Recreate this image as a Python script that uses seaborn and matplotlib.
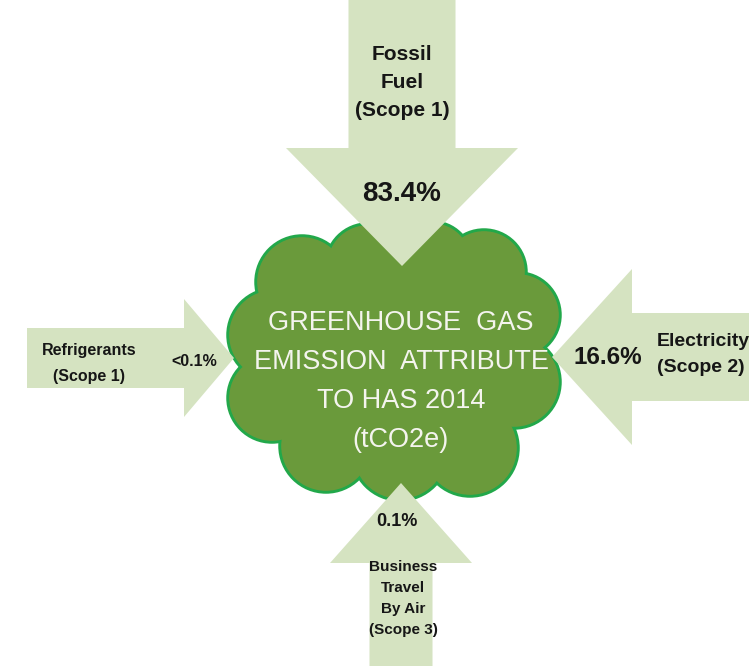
import matplotlib
matplotlib.use("Agg")
import matplotlib.pyplot as plt
from matplotlib.patches import Polygon, Circle
import seaborn as sns

# ---- data ----
sources = ["Fossil\nFuel\n(Scope 1)", "Electricity\n(Scope 2)",
           "Refrigerants\n(Scope 1)", "Business\nTravel\nBy Air\n(Scope 3)"]
shares = ["83.4%", "16.6%", "<0.1%", "0.1%"]
centre_title = ["GREENHOUSE  GAS", "EMISSION  ATTRIBUTE", "TO HAS 2014", "(tCO2e)"]

sns.set_theme(style="white")
plt.rcParams['font.family'] = ['Liberation Sans', 'DejaVu Sans']

ARROW = "#d5e3c1"
CLOUD = "#6a9a3b"
EDGE = "#22a84a"
INK = "#161616"

fig = plt.figure(figsize=(7.49, 6.66), dpi=100)
ax = fig.add_axes([0, 0, 1, 1])
ax.set_xlim(0, 749)
ax.set_ylim(666, 0)
ax.axis("off")


def arrow(direction, tip, shaft_w, head_w, head_len, tail):
    tx, ty = tip
    hs, hh = shaft_w / 2, head_w / 2
    if direction in ("down", "up"):
        b = ty - head_len if direction == "down" else ty + head_len
        pts = [(tx - hs, tail), (tx + hs, tail), (tx + hs, b), (tx + hh, b), (tx, ty),
               (tx - hh, b), (tx - hs, b)]
    else:
        b = tx - head_len if direction == "right" else tx + head_len
        pts = [(tail, ty - hs), (tail, ty + hs), (b, ty + hs), (b, ty + hh), (tx, ty),
               (b, ty - hh), (b, ty - hs)]
    ax.add_patch(Polygon(pts, closed=True, facecolor=ARROW, edgecolor="none", zorder=4))


# cloud
circles = [
    (302, 282, 46), (368, 266, 42), (432, 262, 40), (484, 272, 42),
    (518, 315, 42), (514, 382, 46), (470, 448, 48), (400, 452, 48),
    (326, 446, 46), (272, 398, 44), (274, 335, 46), (400, 360, 110),
]
for cx, cy, r in circles:
    ax.add_patch(Circle((cx, cy), r, facecolor=CLOUD, edgecolor=EDGE, lw=2.5, zorder=2))
for cx, cy, r in circles:
    ax.add_patch(Circle((cx, cy), r - 1.2, facecolor=CLOUD, edgecolor="none", zorder=3))

# arrows (tips overlap the cloud)
arrow("down", (402, 266), 107, 232, 118, -5)
arrow("right", (234, 358), 60, 118, 50, 27)
arrow("left", (552, 357), 88, 176, 80, 760)
arrow("up", (401, 483), 63, 142, 80, 670)

# cloud title
for i, line in enumerate(centre_title):
    ax.text(401, 323 + 39 * i, line, ha="center", va="center", color="#f4f4ee",
            fontsize=19.5, zorder=6)

# labels
for i, line in enumerate(sources[0].split("\n")):
    ax.text(402, 54 + 28 * i, line, ha="center", va="center", color=INK, fontsize=15,
            fontweight="bold", zorder=6)
ax.text(402, 194, shares[0], ha="center", va="center", color=INK, fontsize=20,
        fontweight="bold", zorder=6)

for i, line in enumerate(sources[1].split("\n")):
    ax.text(657, 342 + 26 * i, line, ha="left", va="center", color=INK, fontsize=14,
            fontweight="bold", zorder=6)
ax.text(608, 357, shares[1], ha="center", va="center", color=INK, fontsize=17.5,
        fontweight="bold", zorder=6)

for i, line in enumerate(sources[2].split("\n")):
    ax.text(89, 351 + 25 * i, line, ha="center", va="center", color=INK, fontsize=11.5,
            fontweight="bold", zorder=6)
ax.text(194, 362, shares[2], ha="center", va="center", color=INK, fontsize=11.5,
        fontweight="bold", zorder=6)

for i, line in enumerate(sources[3].split("\n")):
    ax.text(403, 567 + 21 * i, line, ha="center", va="center", color=INK, fontsize=11,
            fontweight="bold", zorder=6)
ax.text(397, 521, shares[3], ha="center", va="center", color=INK, fontsize=13,
        fontweight="bold", zorder=6)

fig.savefig("out.png", dpi=100, facecolor="white")
